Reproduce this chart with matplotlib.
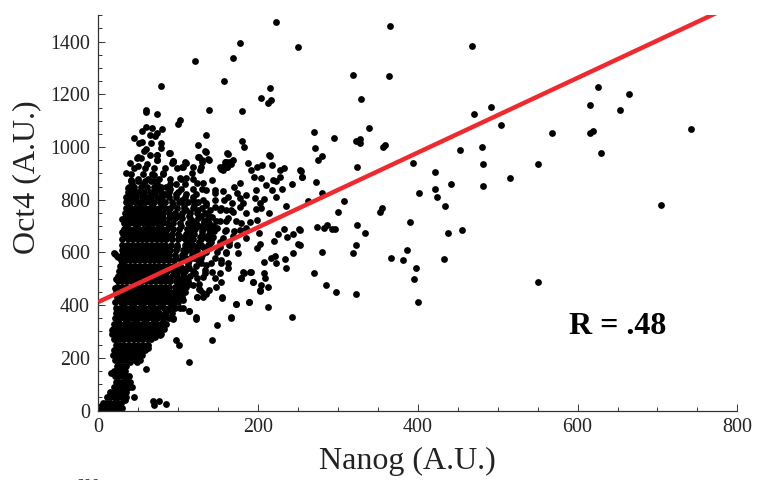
import matplotlib
matplotlib.use("Agg")
import matplotlib.pyplot as plt
from matplotlib.ticker import MultipleLocator

plt.rcParams['font.family'] = ['Liberation Serif', 'DejaVu Serif']

# Sparse cells read one by one (far right part of the plot)
far_nanog = [365,468,319,364,329,625,664,615,653,491,470,504,339,742,615,619,568,270,295,322,328,328,356,359,271,480,453,629,
             280,275,394,551,482,324,421,254,255,273,442,482,516,422,402,424,280,263,307,434,300,355,352,705,390,324,274,282,286,
             293,296,252,334,455,438,252,322,386,280,319,367,381,433,398,395,270,285,298,322,400,550]
far_oct4 = [1458,1383,1275,1271,1184,1229,1203,1158,1141,1151,1124,1085,1073,1068,1054,1061,1052,1056,1036,1023,1031,1016,1002,1006,998,1000,988,977,
            966,952,940,936,934,925,904,908,885,869,860,853,884,840,826,809,824,797,797,775,754,767,755,781,716,703,696,692,703,
            689,689,684,674,684,675,630,627,611,603,596,580,571,574,542,499,520,477,450,444,412,487]

# Sparse cells above the dense cloud
top_nanog = [222,250,177,168,121,157,78,215,204,216,212,138,180,59,60,74,102,100,60,55,80,67,73,65,71,45,135,180,182,54,51,66,79,79,60,125,135,
             90,162,215,57,74,64,53,48,73,126,138,130,94,92,110,169,160,157,154,161,166,50,39,49,61,73,73,93,105,35,41,56,67,81,41,37]
top_oct4 = [1476,1380,1395,1337,1326,1251,1230,1225,1187,1180,1166,1140,1135,1142,1132,1127,1102,1087,1076,1061,1069,1071,1055,1044,1040,1033,1045,1022,999,1018,1015,1015,1015,998,993,1006,983,
            978,974,967,984,970,968,959,959,949,961,949,951,947,939,941,951,942,927,917,923,936,963,940,927,935,969,950,944,925,902,897,896,896,896,874,843]

# Scattered cells to the right of the cloud
mid_nanog = [89,134,161,214,93,108,125,137,130,158,164,152,161,156,187,198,205,217,191,233,227,253,255,195,204,219,227,223,242,210,217,230,177,170,197,223,174,185,156,146,146,135,131,142,123,127,117,106,119,129,81,69,102,110,
             162,177,196,207,167,181,202,235,146,154,160,169,185,197,214,177,204,135,142,152,162,179,190,198,148,160,177,185,201,225,233,251,244,236,220,250,202,199,185,169,156,142,173,164,152,139,160,175,244,221,216,234,207,223,162,154,146,135,162,133,152,142,235,191,182,207,209,178,194,154,146,131,121,123,119,204,212,202,147,127,139,131,123,106,155,172,188,212,114,102,94,122,94,166,243,106,98,83]
mid_oct4 = [979,985,976,970,947,945,964,954,945,945,945,926,926,913,941,926,930,932,913,919,913,913,888,885,881,875,888,871,859,856,837,841,862,847,837,809,825,818,835,837,825,837,862,875,862,913,900,926,926,926,900,894,881,881,
            809,806,806,803,787,787,787,778,774,768,761,752,749,764,749,774,768,787,736,721,730,711,717,723,692,685,685,692,675,669,688,688,670,660,645,632,631,618,654,663,654,654,628,628,622,616,597,597,597,587,578,574,565,561,559,572,578,553,540,534,521,527,540,527,521,521,502,502,489,487,502,508,521,502,477,477,467,454,470,458,458,445,432,483,429,405,412,392,378,388,401,353,350,354,356,420,426,357]

# Scattered cells at the low end and along the edges of the cloud
low_nanog = [21,25,22,21,17,21,23,16,25,59,44,68,69,76,85,114,97,101,142,148,166,122,93,114,155,172,189,123,131,135,126,101,106,77,71,62,58,48,40,35,37,33,23,14,21,25,178,181,190,194,202,19,23,29,29,29,23]
low_oct4 = [594,584,499,466,305,271,217,143,192,157,50,36,21,36,25,185,267,247,267,323,350,347,347,378,426,404,412,432,432,441,460,423,388,286,278,236,242,185,185,128,90,40,27,59,90,103,502,524,526,489,457,596,585,726,678,558,501]

# Dense cloud: estimated cell positions read level by level (Oct4 level -> Nanog values)
cloud_levels = [8,16,30,50,70,90,110,130,150,170,190,210,230,250,270,290,310,330,350,370,390,410,430,450,470,490,510,530,550,570,
                590,610,630,650,670,690,710,730,750,770,790,810,830,850,870]
cloud_nanog = [
    [1,4,8,11,15,19,24,29],
    [3,6,10,14,18,22,27],
    [6,10,14,19,23,28],
    [11,15,20,24,30,34],
    [15,19,24,29,34],
    [19,23,28,33,38,42],
    [22,26,31,36,40],
    [21,25,29,34,38],
    [20,24,28,33],
    [23,27,31,35],
    [21,25,30,35,40,46,52],
    [18,23,28,33,38,44,50,55],
    [20,25,30,35,41,47,53,58],
    [22,27,32,38,44,50,56,62],
    [20,25,31,37,43,49,55,61,66],
    [17,23,29,35,41,47,53,59,66,72,78],
    [18,24,30,36,42,48,54,60,66,71,76,82],
    [20,26,32,37,43,49,55,61,67,73,79,85],
    [21,27,33,39,45,50,56,62,68,74,81,88],
    [22,28,34,40,46,52,58,64,70,76,83,92],
    [22,27,33,39,45,51,57,63,69,75,82,89,96],
    [21,28,34,40,46,52,58,64,70,76,82,88,94,100],
    [23,29,35,41,47,53,59,65,71,77,83,90,97,105],
    [22,28,34,40,46,52,58,64,70,76,82,88,95,102,108],
    [23,29,35,41,47,53,59,65,71,77,83,89,96,104,110],
    [24,30,36,42,48,54,60,66,72,78,84,90,97,105,112],
    [25,31,37,43,49,55,61,67,73,79,85,92,99,107,115],
    [26,32,38,44,50,56,62,68,74,80,86,93,100,109,118],
    [27,33,39,45,51,57,63,69,75,81,87,94,102,112,122],
    [28,34,40,46,52,58,64,70,76,82,88,95,103,114,125],
    [29,35,41,47,53,59,65,71,77,83,89,96,105,117,130],
    [29,35,41,47,53,59,65,71,77,83,90,97,106,115,124,133],
    [30,36,42,48,54,60,66,72,78,84,91,99,108,118,128,137],
    [30,37,43,49,55,61,67,73,79,85,92,100,109,119,129,137],
    [31,37,43,49,55,61,67,73,79,85,92,100,110,120,130,138],
    [32,38,44,50,56,62,68,74,80,86,93,101,111,121,131,138],
    [32,38,44,50,56,62,68,74,80,86,93,102,112,122,132,138],
    [33,39,45,51,57,63,69,75,81,88,96,105,115,125,137],
    [33,39,45,51,57,63,69,75,81,88,96,105,115,124,133],
    [34,40,46,52,58,64,70,76,83,90,98,107,118,130],
    [34,40,46,52,58,64,70,77,84,92,101,112,125],
    [35,41,47,54,60,66,73,80,88,97,108,118],
    [37,43,50,57,64,71,79,88,100],
    [38,45,53,61,70,79,85],
    [41,49,58,66,70],
]

# Extra cells filling the thick right flank of the cloud, estimated level by level
flank_levels = [480,520,560,600,640,680,720,760,800,840,880,920]
flank_nanog = [
    [101,113,126],
    [106,120,134],
    [112,128,141,153],
    [108,121,135,149,160],
    [112,126,141,152,163],
    [115,130,145,158,170],
    [118,132,147,160,172],
    [110,125,140,152,166],
    [105,118,131,146,157],
    [76,90,104,118,130],
    [50,62,76,90,104,118],
    [44,58,70,84,98],
]

# Cells lying between the levels above, estimated across the same region
between_levels = [320,340,360,380,400,420,440,460,500,540,580,620,660,700,740,780,820,860]
between_nanog = [
    [27,39,51,63,74],
    [24,35,46,58,70,81],
    [30,43,55,67,79,85],
    [25,37,49,61,72,86],
    [31,43,54,66,79,92],
    [26,38,50,62,74,86,98],
    [32,44,56,68,80,93,101],
    [27,39,51,63,75,87,100,106],
    [28,41,52,64,76,89,102,111],
    [31,44,56,68,81,95,105,114],
    [33,46,59,72,85,97,110,120,129],
    [34,47,60,74,87,99,112,122,131,140],
    [36,49,63,77,90,103,116,127,135,143],
    [35,48,62,76,89,104,117,126,134,144],
    [37,50,64,78,92,100,114,128,139],
    [38,52,67,81,93,107,120,135],
    [40,54,68,83,97,110,122],
    [42,56,73,90,97,108],
]

ax_x_ticks = [0, 200, 400, 600, 800]
ax_y_ticks = [0, 200, 400, 600, 800, 1000, 1200, 1400]
fit_nanog = [0, 800]
fit_oct4 = [412, 1546]

W, H = 757, 480
fig = plt.figure(figsize=(W/100, H/100), dpi=100)
ax = fig.add_axes([98.4/W, (H-410.5)/H, (737.3-98.4)/W, (410.5-15.3)/H])
ax.set_xlim(0, 800)
ax.set_ylim(0, 1500)

xs = far_nanog + top_nanog + mid_nanog + low_nanog
ys = far_oct4 + top_oct4 + mid_oct4 + low_oct4
for lvl, row in zip(cloud_levels + flank_levels + between_levels, cloud_nanog + flank_nanog + between_nanog):
    xs = xs + row
    ys = ys + [lvl] * len(row)
ax.scatter(xs, ys, s=24, c='black', linewidths=0, zorder=2)
ax.plot(fit_nanog, fit_oct4, color='#ee2a2e', lw=3.2, zorder=3, solid_capstyle='butt')

for s in ('top', 'right'):
    ax.spines[s].set_visible(False)
for s in ('left', 'bottom'):
    ax.spines[s].set_color('#333333')
    ax.spines[s].set_linewidth(0.9)
ax.set_xticks(ax_x_ticks)
ax.set_yticks(ax_y_ticks)
ax.xaxis.set_minor_locator(MultipleLocator(50))
ax.yaxis.set_minor_locator(MultipleLocator(50))
ax.tick_params(which='major', direction='in', length=5, width=0.7, color='#333333', labelsize=14.4, labelcolor='#222222')
ax.tick_params(which='minor', direction='in', length=3, width=0.7, color='#333333')
ax.tick_params(axis='x', which='major', pad=5.5)
ax.tick_params(axis='y', which='major', pad=6)

fig.text(407/W, 1-461/H, 'Nanog (A.U.)', fontsize=23, ha='center', va='center', color='#222222')
fig.text(27/W, 1-177/H, 'Oct4 (A.U.)', fontsize=23, ha='center', va='center', rotation=90, color='#222222')
fig.text(618/W, 1-334.5/H, 'R = .48', fontsize=23, fontweight='bold', ha='center', va='baseline', color='black')
fig.text(88/W, 1-477.5/H, '600', fontsize=12, ha='center', va='top', color='#222222')

fig.savefig('out.png', dpi=100)
